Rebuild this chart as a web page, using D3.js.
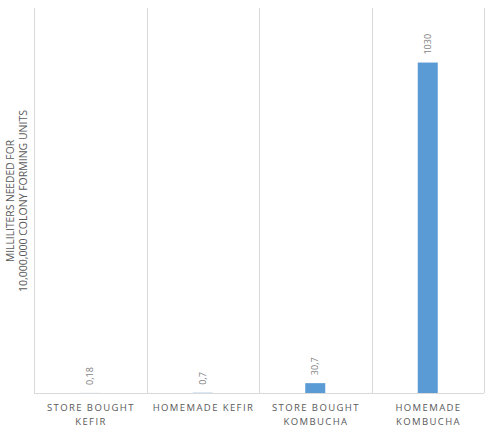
<!DOCTYPE html>
<meta charset="utf-8">
<style>
    body { margin: 0; background: #fff; }
    text { font-family: "Open Sans", "Liberation Sans", sans-serif; fill: #595959; }
    .grid line { stroke: #d9d9d9; stroke-width: 1; }
    .bar { fill: #5b9bd5; }
    .cat text { font-size: 9.5px; letter-spacing: 1.4px; }
    .val { font-size: 9px; fill: #7f7f7f; }
    .ytitle { font-size: 10px; }
</style>
<body>
<script src="https://cdn.jsdelivr.net/npm/d3@7"></script>
<script>

    var categories = [["STORE BOUGHT", "KEFIR"], ["HOMEMADE KEFIR"], ["STORE BOUGHT", "KOMBUCHA"], ["HOMEMADE", "KOMBUCHA"]];
    var values = [0.18, 0.7, 30.7, 1030];
    var valueLabels = ["0,18", "0,7", "30,7", "1030"];
    var yTitle = ["MILLILITERS NEEDED FOR", "10,000,000 COLONY FORMING UNITS"];

    var margin = {top: 8, right: 7, bottom: 35, left: 34},
        width = 491 - margin.left - margin.right,
        height = 428 - margin.top - margin.bottom;

    var svg = d3.select("body").append("svg")
            .attr("width", 491)
            .attr("height", 428);

    var g = svg.append("g")
            .attr("transform", "translate(" + margin.left + "," + margin.top + ")");

    var x = d3.scaleBand()
            .domain(d3.range(values.length))
            .range([0, width]);

    var y = d3.scaleLinear()
            .domain([0, 1200])
            .range([height, 0]);

    // vertical separators between categories
    var grid = g.append("g").attr("class", "grid");
    var edges = x.domain().map(function(i) { return x(i); }).concat([width]);
    grid.selectAll("line.v")
            .data(edges)
            .enter().append("line")
            .attr("class", "v")
            .attr("x1", function(d) { return Math.round(d) + 0.5; })
            .attr("x2", function(d) { return Math.round(d) + 0.5; })
            .attr("y1", 0)
            .attr("y2", height);

    grid.append("line")
            .attr("x1", 0)
            .attr("x2", width)
            .attr("y1", height + 0.5)
            .attr("y2", height + 0.5);

    var barW = 20;

    g.selectAll("rect.bar")
            .data(values)
            .enter().append("rect")
            .attr("class", "bar")
            .attr("x", function(d, i) { return x(i) + x.bandwidth() / 2 - barW / 2; })
            .attr("y", function(d) { return y(d); })
            .attr("width", barW)
            .attr("height", function(d) { return height - y(d); });

    g.selectAll("text.val")
            .data(values)
            .enter().append("text")
            .attr("class", "val")
            .attr("transform", function(d, i) {
                return "translate(" + (x(i) + x.bandwidth() / 2 + 3) + "," + (y(d) - 8) + ") rotate(-90)";
            })
            .attr("text-anchor", "start")
            .text(function(d, i) { return valueLabels[i]; });

    var cat = g.append("g").attr("class", "cat");
    categories.forEach(function(lines, i) {
        var t = cat.append("text")
                .attr("x", x(i) + x.bandwidth() / 2)
                .attr("y", height + 18)
                .attr("text-anchor", "middle");
        lines.forEach(function(l, j) {
            t.append("tspan")
                    .attr("x", x(i) + x.bandwidth() / 2 + 0.7)
                    .attr("dy", j === 0 ? 0 : 13.5)
                    .text(l);
        });
    });

    // axis title, two lines, stretched to the width Excel gives it
    var titleLen = [122, 182];
    yTitle.forEach(function(l, j) {
        svg.append("text")
                .attr("class", "ytitle")
                .attr("transform", "translate(" + (14 + j * 13) + ",201) rotate(-90)")
                .attr("text-anchor", "middle")
                .attr("textLength", titleLen[j])
                .attr("lengthAdjust", "spacingAndGlyphs")
                .text(l);
    });

</script>
